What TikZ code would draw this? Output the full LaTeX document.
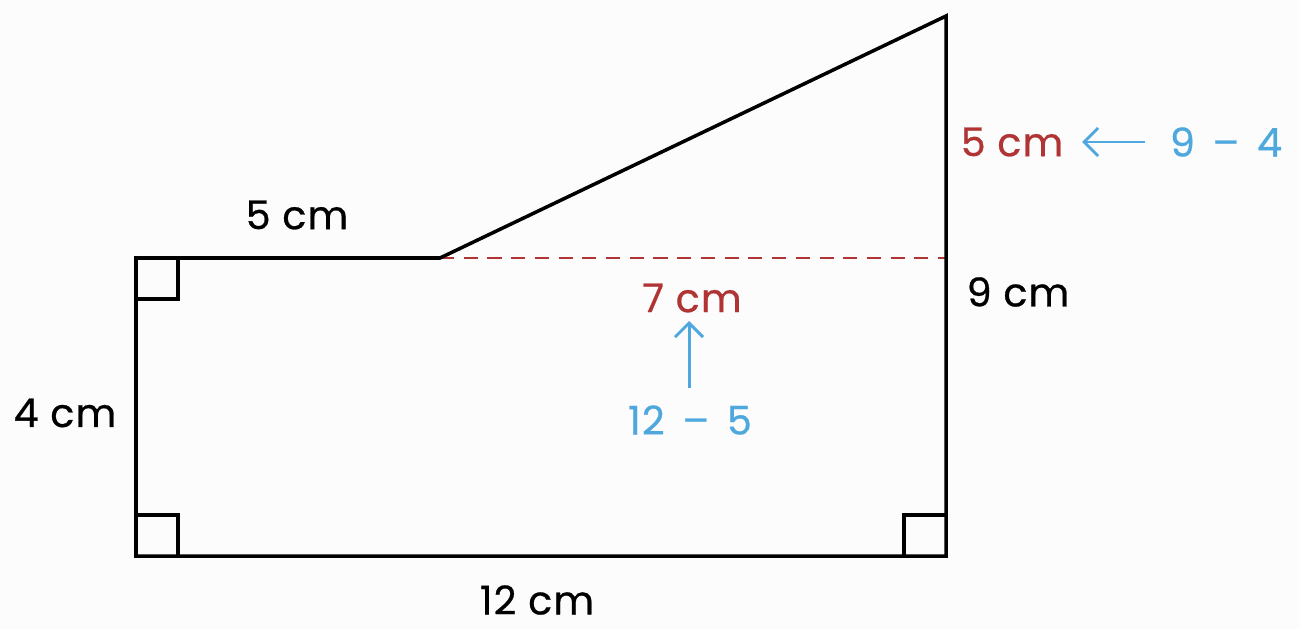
\documentclass[tikz,border=0pt]{standalone}
\usepackage{fontspec}
\setmainfont{Poppins}
\newfontfamily\handfont{Poppins}[FakeBold=0.7,LetterSpace=3]
\usetikzlibrary{arrows.meta}
\definecolor{redlab}{HTML}{B03434}
\definecolor{bluelab}{HTML}{4EA8DE}
\definecolor{bg}{HTML}{FCFCFC}
\begin{document}
\begin{tikzpicture}[x=0.02cm,y=-0.02cm,
  edge/.style={line width=2pt,line join=miter},
  lab/.style={font=\handfont\fontsize{22.5}{26}\selectfont,inner sep=0pt},
  redtext/.style={lab,text=redlab},
  bluetext/.style={lab,text=bluelab},
  bluearrow/.style={bluelab,line width=1.7pt,-{Straight Barb[length=8pt,width=16pt]}},
  rightmark/.style={line width=2pt}]
\useasboundingbox[fill=bg] (0,0) rectangle (1300,629);
\coordinate (A) at (136,258);
\coordinate (B) at (136,556);
\coordinate (C) at (946,556);
\coordinate (D) at (946,16);
\coordinate (E) at (440,258);
\coordinate (F) at (946,258);
\draw[redlab,line width=1.6pt,dash pattern=on 8pt off 5.5pt] (E) -- (F);
\draw[edge] (E) -- (A) -- (B) -- (C) -- (D) -- cycle;
\draw[rightmark] (136,299) -- (178,299) -- (178,258);
\draw[rightmark] (136,515) -- (178,515) -- (178,556);
\draw[rightmark] (946,515) -- (904,515) -- (904,556);
\node[lab] (l5) at (297,215) {5 cm};
\node[lab] (l4) at (65,413) {4 cm};
\node[lab] (l12) at (537,600) {12 cm};
\node[lab] (l9) at (1018,292) {9 cm};
\node[redtext] (r5) at (1012,142) {5 cm};
\node[bluetext] (b94) at (1226,142) {9\hspace{0.45em}–\hspace{0.45em}4};
\node[redtext] (r7) at (692,298) {7 cm};
\node[bluetext] (b125) at (690,420) {12\hspace{0.45em}–\hspace{0.45em}5};
\coordinate (s1) at (1145,142);
\coordinate (e1) at (1082,142);
\coordinate (s2) at (689,388);
\coordinate (e2) at (689,321);
\draw[bluearrow] (s1) -- (e1);
\draw[bluearrow] (s2) -- (e2);
\end{tikzpicture}
\end{document}
